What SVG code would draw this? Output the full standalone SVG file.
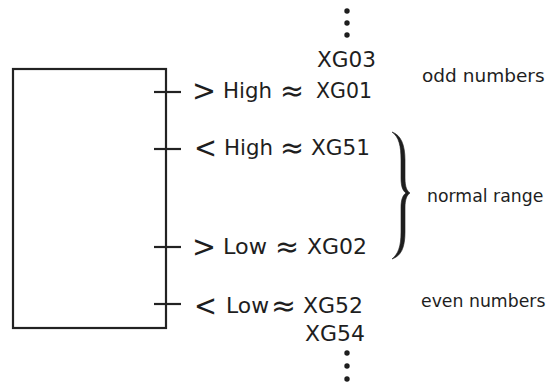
<svg xmlns="http://www.w3.org/2000/svg" width="555" height="386" viewBox="0 0 555 386">
  <style>
    .ln { fill: none; stroke: #222; stroke-width: 2.2; stroke-linecap: butt; }
    .t { font-family: "DejaVu Sans", "Liberation Sans", sans-serif; fill: #1e1e1e; font-size: 21px; }
    .op { font-size: 30px; }
    .lbl { font-size: 18.5px; }
    .lbl-sm { font-size: 17.3px; }
    .dot { fill: #1e1e1e; }
  </style>
  <rect width="555" height="386" fill="#ffffff"/>

  <!-- block with its four output terminals -->
  <g id="block">
    <rect class="ln" x="13" y="69" width="153" height="259"/>
  </g>

  <g id="connectors">
    <line class="ln" x1="154" y1="92" x2="181" y2="92"/>
    <line class="ln" x1="154" y1="149" x2="181" y2="149"/>
    <line class="ln" x1="154" y1="247" x2="181" y2="247"/>
    <line class="ln" x1="154" y1="304" x2="181" y2="304"/>
  </g>

  <!-- upper continuation -->
  <g id="upper-dots">
    <circle class="dot" cx="347" cy="11" r="2.7"/>
    <circle class="dot" cx="347" cy="23" r="2.7"/>
    <circle class="dot" cx="347" cy="35" r="2.7"/>
  </g>
  <g id="xg03">
    <text class="t" x="317" y="67" textLength="59" lengthAdjust="spacingAndGlyphs">XG03</text>
  </g>

  <g id="high-upper">
    <text class="t op" x="192" y="101" textLength="24" lengthAdjust="spacingAndGlyphs">&gt;</text>
    <text class="t" x="223" y="98" textLength="49" lengthAdjust="spacingAndGlyphs">High</text>
    <text class="t op" x="280" y="101" textLength="24" lengthAdjust="spacingAndGlyphs">≈</text>
    <text class="t" x="316" y="98" textLength="56" lengthAdjust="spacingAndGlyphs">XG01</text>
  </g>

  <g id="high-lower">
    <text class="t op" x="194" y="158" textLength="23" lengthAdjust="spacingAndGlyphs">&lt;</text>
    <text class="t" x="224" y="155" textLength="49" lengthAdjust="spacingAndGlyphs">High</text>
    <text class="t op" x="280" y="158" textLength="24" lengthAdjust="spacingAndGlyphs">≈</text>
    <text class="t" x="311" y="155" textLength="59" lengthAdjust="spacingAndGlyphs">XG51</text>
  </g>

  <g id="low-upper">
    <text class="t op" x="192" y="257" textLength="24" lengthAdjust="spacingAndGlyphs">&gt;</text>
    <text class="t" x="223" y="254" textLength="44" lengthAdjust="spacingAndGlyphs">Low</text>
    <text class="t op" x="275" y="257" textLength="24" lengthAdjust="spacingAndGlyphs">≈</text>
    <text class="t" x="307" y="254" textLength="60" lengthAdjust="spacingAndGlyphs">XG02</text>
  </g>

  <g id="low-lower">
    <text class="t op" x="194" y="316" textLength="23" lengthAdjust="spacingAndGlyphs">&lt;</text>
    <text class="t" x="226" y="313" textLength="43" lengthAdjust="spacingAndGlyphs">Low</text>
    <text class="t op" x="271" y="316" textLength="25" lengthAdjust="spacingAndGlyphs">≈</text>
    <text class="t" x="303" y="313" textLength="60" lengthAdjust="spacingAndGlyphs">XG52</text>
  </g>

  <g id="xg54">
    <text class="t" x="305" y="341" textLength="60" lengthAdjust="spacingAndGlyphs">XG54</text>
  </g>
  <g id="lower-dots">
    <circle class="dot" cx="347" cy="353" r="2.7"/>
    <circle class="dot" cx="347" cy="366" r="2.7"/>
    <circle class="dot" cx="347" cy="379" r="2.7"/>
  </g>

  <!-- side notes -->
  <g id="odd-note">
    <text class="t lbl" x="422" y="82">odd numbers</text>
  </g>

  <g id="normal-range">
    <!-- tapered curly brace -->
    <path d="M392,132 C401,135 405,145 405,160 L405,178 C405,187 407,191 410,193 C407,195 405,199 405,208 L405,232 C405,248 401,256 392,259 C398,254 401,247 401,232 L401,208 C401,199 403,195 406,193 C403,191 401,187 401,178 L401,160 C401,146 399,137 392,132 Z"
          fill="#1e1e1e" stroke="#1e1e1e" stroke-width="0.6"/>
    <text class="t lbl-sm" x="427" y="202">normal range</text>
  </g>

  <g id="even-note">
    <text class="t lbl-sm" x="421" y="307">even numbers</text>
  </g>
</svg>
